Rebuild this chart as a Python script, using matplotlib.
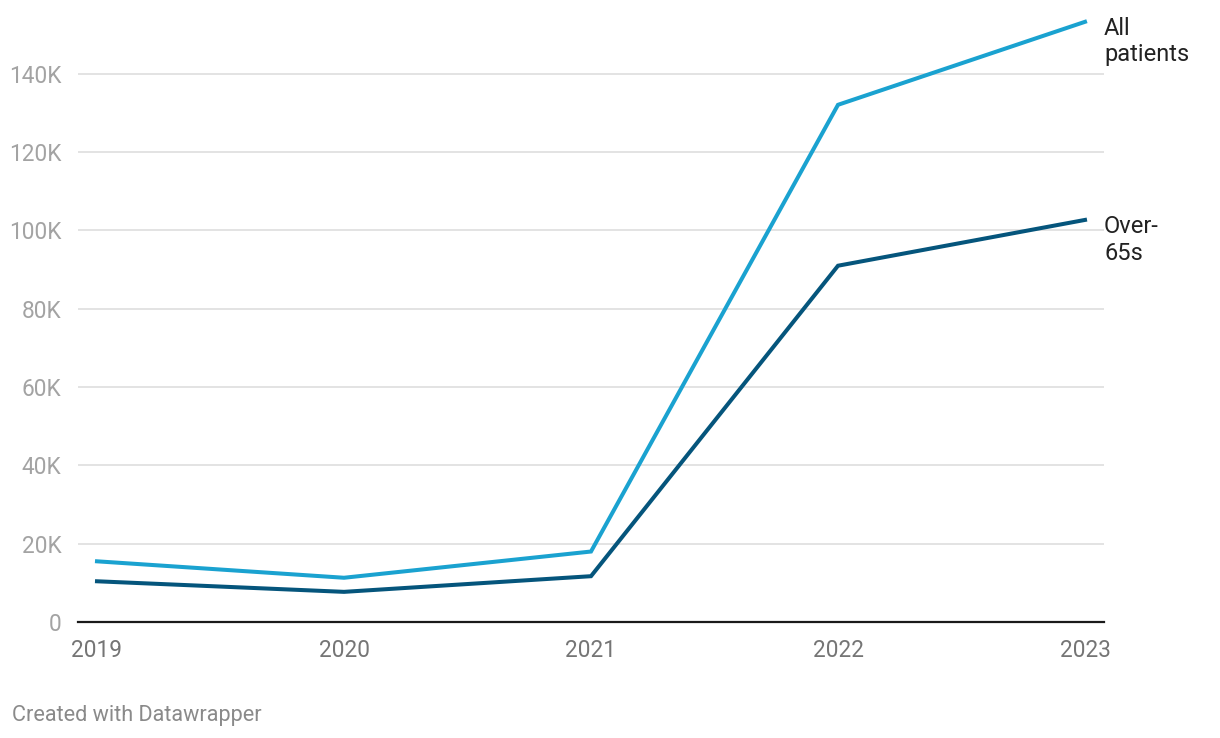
import matplotlib.pyplot as plt
import matplotlib.ticker as ticker

plt.rcParams['font.family'] = ['Roboto', 'DejaVu Sans']

years = [2019, 2020, 2021, 2022, 2023]
all_patients = [15500, 11300, 18000, 132100, 153300]
over_65s = [10400, 7700, 11700, 91000, 102700]
y_ticks = [0, 20000, 40000, 60000, 80000, 100000, 120000, 140000]

fig = plt.figure(figsize=(12.2, 7.38), dpi=100)
ax = fig.add_axes([78 / 1220, 116 / 738, 1026 / 1220, 607 / 738])

ax.plot(years, all_patients, color='#1aa2d0', linewidth=2.9, solid_joinstyle='miter', zorder=3)
ax.plot(years, over_65s, color='#05557c', linewidth=2.9, solid_joinstyle='miter', zorder=3)

ax.set_xlim(2019 - 19 / 247, 2023 + 19 / 247)
ax.set_ylim(0, 155040)

ax.set_yticks(y_ticks)
ax.yaxis.set_major_formatter(ticker.FuncFormatter(lambda v, _: '0' if v == 0 else f'{v / 1000:.0f}K'))
ax.set_xticks(years)
ax.set_xticklabels([str(y) for y in years])

ax.grid(axis='y', color='#e3e3e3', linewidth=1.4, zorder=0)
ax.grid(axis='x', visible=False)
for s in ['top', 'right', 'left']:
    ax.spines[s].set_visible(False)
ax.spines['bottom'].set_color('#1a1a1a')
ax.spines['bottom'].set_linewidth(1.6)
ax.spines['bottom'].set_zorder(4)

ax.tick_params(axis='y', length=0, pad=12, labelsize=16.3, labelcolor='#a3a3a3')
ax.tick_params(axis='x', length=0, pad=12, labelsize=16.3, labelcolor='#757575')

# end labels
ax.annotate('All\npatients', xy=(years[-1], all_patients[-1]), xytext=(19, 5),
            textcoords='offset pixels', va='top', ha='left', fontsize=17,
            color='#222222', linespacing=1.2, annotation_clip=False)
ax.annotate('Over-\n65s', xy=(years[-1], over_65s[-1]), xytext=(19, 5),
            textcoords='offset pixels', va='top', ha='left', fontsize=17,
            color='#222222', linespacing=1.2, annotation_clip=False)

fig.text(12 / 1220, 1 - 715 / 738, 'Created with Datawrapper', fontsize=15.6,
         color='#8a8a8a', va='center', ha='left')

fig.savefig('out.png', dpi=100)
